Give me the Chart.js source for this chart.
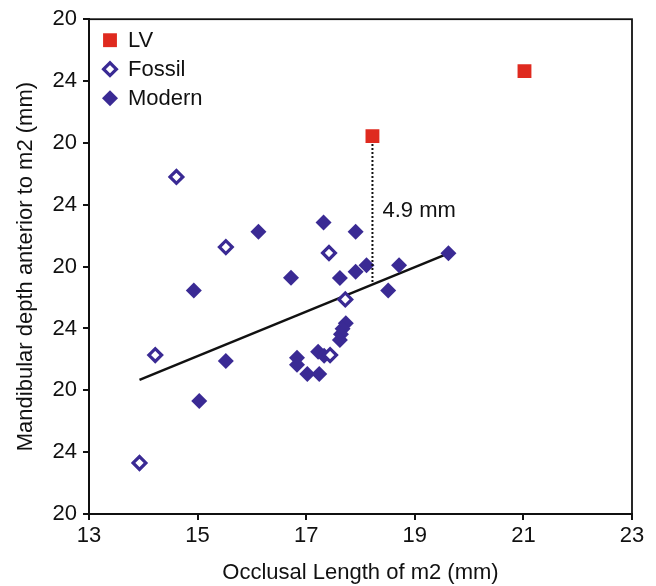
<!DOCTYPE html>
<html>
<head>
<meta charset="utf-8">
<script src="https://cdn.jsdelivr.net/npm/chart.js@4"></script>
<style>
  body { margin: 0; background: #fff; }
  #wrap { width: 656px; height: 586px; }
</style>
</head>
<body>
<div id="wrap"><canvas id="grafico" width="656" height="586"></canvas></div>
<script>
// valores
const lvX = [21.02, 18.22];
const lvY = [34.32, 32.22];

const fossilX = [14.61, 15.52, 17.42, 17.72, 14.22, 17.44, 13.93];
const fossilY = [30.90, 28.63, 28.44, 26.94, 25.14, 25.14, 21.65];

const modernX = [16.12, 17.32, 17.91, 14.93, 16.72, 17.62, 17.91, 18.11, 18.71, 19.62, 18.51,
                 17.73, 17.67, 17.64, 17.62, 17.22, 17.33, 16.83, 16.83, 17.02, 17.24, 15.52, 15.03];
const modernY = [29.13, 29.43, 29.13, 27.23, 27.64, 27.63, 27.83, 28.04, 28.04, 28.43, 27.23,
                 26.17, 25.99, 25.81, 25.63, 25.25, 25.12, 25.05, 24.83, 24.53, 24.53, 24.95, 23.65];

// reta de regressao (extremos)
const fitX = [13.93, 19.62];
const fitY = [24.34, 28.43];

const xTicks = ['13', '15', '17', '19', '21', '23'];
const yTickLabels = ['20', '24', '20', '24', '20', '24', '20', '24', '20'];
const diferencaTexto = '4.9 mm';

const azul = '#3a2a94';
const vermelho = '#df2a1f';
const fonte = 'Liberation Sans, Arial, Helvetica, sans-serif';

function pontos(xs, ys) {
    return xs.map((x, i) => ({ x: x, y: ys[i] }));
}

// moldura, legenda e a linha pontilhada com o texto
const extras = {
    id: 'extras',
    afterDraw(chart) {
        const ctx = chart.ctx;
        const area = chart.chartArea;
        const sx = chart.scales.x;
        const sy = chart.scales.y;
        ctx.save();

        ctx.strokeStyle = '#111';
        ctx.lineWidth = 1.8;
        ctx.strokeRect(area.left, area.top, area.right - area.left, area.bottom - area.top);

        // linha pontilhada do LV ate a reta
        const xv = lvX[1];
        const yReta = fitY[0] + (xv - fitX[0]) * (fitY[1] - fitY[0]) / (fitX[1] - fitX[0]);
        const px = sx.getPixelForValue(xv);
        const pTopo = sy.getPixelForValue(lvY[1]) + 8;
        const pBase = sy.getPixelForValue(yReta);
        ctx.beginPath();
        ctx.setLineDash([2, 2]);
        ctx.lineWidth = 2;
        ctx.strokeStyle = '#111';
        ctx.moveTo(px, pTopo);
        ctx.lineTo(px, pBase);
        ctx.stroke();
        ctx.setLineDash([]);

        ctx.fillStyle = '#111';
        ctx.font = '22px ' + fonte;
        ctx.textBaseline = 'middle';
        ctx.textAlign = 'left';
        ctx.fillText(diferencaTexto, px + 10, (pTopo + pBase) / 2 - 3);

        // legenda
        const ds = chart.data.datasets.slice(0, 3);
        ds.forEach(function(d, i) {
            const lx = area.left + 21;
            const ly = area.top + 21 + i * 29;
            ctx.fillStyle = d.backgroundColor;
            ctx.strokeStyle = d.borderColor;
            ctx.lineWidth = d.borderWidth;
            Chart.helpers.drawPoint(ctx, {
                pointStyle: d.pointStyle,
                radius: d.pointRadius,
                borderWidth: d.borderWidth,
                rotation: 0
            }, lx, ly);
            ctx.fillStyle = '#111';
            ctx.fillText(d.label, area.left + 39, ly + 1);
        });
        ctx.restore();
    }
};

const ctx = document.getElementById('grafico');

new Chart(ctx, {
    type: 'scatter',
    data: {
        datasets: [{
            label: 'LV',
            data: pontos(lvX, lvY),
            pointStyle: 'rect',
            pointRadius: 9.8,
            borderWidth: 0,
            backgroundColor: vermelho,
            borderColor: vermelho
        }, {
            label: 'Fossil',
            data: pontos(fossilX, fossilY),
            pointStyle: 'rectRot',
            pointRadius: 6.4,
            borderWidth: 3.2,
            backgroundColor: '#ffffff',
            borderColor: azul
        }, {
            label: 'Modern',
            data: pontos(modernX, modernY),
            pointStyle: 'rectRot',
            pointRadius: 8,
            borderWidth: 0,
            backgroundColor: azul,
            borderColor: azul
        }, {
            type: 'line',
            label: 'fit',
            data: pontos(fitX, fitY),
            borderColor: '#111',
            borderWidth: 2.5,
            pointRadius: 0,
            fill: false
        }]
    },
    options: {
        responsive: false,
        animation: false,
        layout: { padding: { left: 0, top: 17, right: 24, bottom: 0 } },
        plugins: {
            legend: { display: false },
            tooltip: { enabled: false }
        },
        scales: {
            x: {
                type: 'linear',
                min: 13,
                max: 23,
                afterFit: function(scale) { scale.height = 72; },
                ticks: {
                    stepSize: 2,
                    padding: 3,
                    color: '#111',
                    font: { family: fonte, size: 22 },
                    callback: function(v, i) { return xTicks[i]; }
                },
                grid: { drawOnChartArea: false, drawTicks: true, tickLength: 6, color: '#111', lineWidth: 2 },
                border: { display: true, color: '#111', width: 2 },
                title: {
                    display: true,
                    text: 'Occlusal Length of m2 (mm)',
                    color: '#111',
                    font: { family: fonte, size: 22 },
                    padding: { top: 0, bottom: 0 }
                }
            },
            y: {
                type: 'linear',
                min: 20,
                max: 36,
                afterFit: function(scale) { scale.width = 89; },
                ticks: {
                    stepSize: 2,
                    padding: 6,
                    color: '#111',
                    font: { family: fonte, size: 22 },
                    callback: function(v, i) { return yTickLabels[i]; }
                },
                grid: { drawOnChartArea: false, drawTicks: true, tickLength: 6, color: '#111', lineWidth: 2 },
                border: { display: true, color: '#111', width: 2 },
                title: {
                    display: true,
                    text: 'Mandibular depth anterior to m2 (mm)',
                    color: '#111',
                    font: { family: fonte, size: 22 },
                    padding: { top: 13, bottom: 0 }
                }
            }
        }
    },
    plugins: [extras]
});
</script>
</body>
</html>
